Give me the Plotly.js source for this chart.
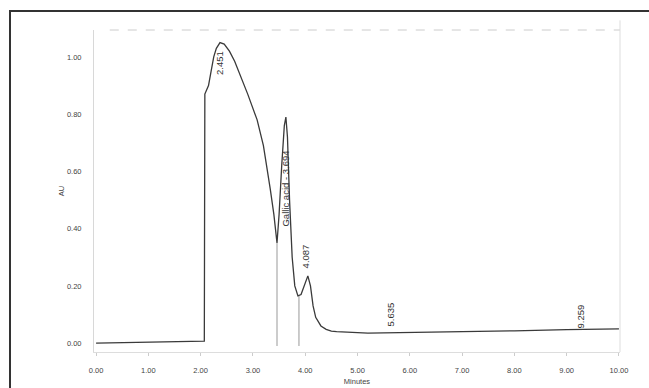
<!DOCTYPE html>
<html>
<head>
<meta charset="utf-8">
<script src="https://cdn.plot.ly/plotly-3.0.1.min.js"></script>
<style>
  html, body { margin: 0; padding: 0; background: #fff; }
  #frame { position: absolute; left: 9px; top: 10px; width: 640px; height: 378px;
           border-left: 2px solid #333; border-top: 2px solid #333; box-sizing: border-box; pointer-events: none; z-index: 5; }
  #chart { width: 649px; height: 388px; }
</style>
</head>
<body>
<div id="chart"></div>
<div id="frame"></div>
<script>
// Chromatogram trace (retention time in minutes, absorbance in AU)
const times = [0, 1.0, 2.0, 2.07, 2.08, 2.1, 2.15, 2.2, 2.25, 2.3, 2.37, 2.45, 2.55, 2.65, 2.75, 2.9, 3.08, 3.2, 3.33, 3.4, 3.46, 3.5, 3.55, 3.6, 3.63, 3.66, 3.7, 3.75, 3.8, 3.86, 3.92, 3.98, 4.05, 4.1, 4.15, 4.2, 4.3, 4.4, 4.5, 4.6, 4.8, 5.0, 5.2, 5.5, 6.0, 7.0, 8.0, 9.0, 10.0];
const au    = [0.0, 0.003, 0.006, 0.007, 0.87, 0.88, 0.9, 0.95, 1.0, 1.03, 1.05, 1.045, 1.02, 0.985, 0.94, 0.87, 0.78, 0.69, 0.54, 0.45, 0.35, 0.45, 0.62, 0.76, 0.79, 0.72, 0.50, 0.30, 0.20, 0.165, 0.17, 0.2, 0.235, 0.2, 0.13, 0.09, 0.06, 0.048, 0.042, 0.04, 0.038, 0.036, 0.035, 0.036, 0.037, 0.04, 0.043, 0.047, 0.05];

// Integration drop lines (time, valley height)
const dropTimes = [3.46, 3.88];
const dropTops  = [0.35, 0.165];

// Peak labels
const peakLabels = ["2.451", "Gallic acid - 3.694", "4.087", "5.635", "9.259"];
const peakTimes  = [2.37, 3.63, 4.0, 5.635, 9.259];
const peakHeights = [0.93, 0.40, 0.255, 0.05, 0.045];

const xTicks = [0,1,2,3,4,5,6,7,8,9,10];
const yTicks = [0, 0.2, 0.4, 0.6, 0.8, 1.0];

const traces = [];
dropTimes.forEach((t, i) => {
  traces.push({x: [t, t], y: [-0.01, dropTops[i]], mode: 'lines',
    line: {color: '#999', width: 1}, hoverinfo: 'skip', showlegend: false});
});
traces.push({x: times, y: au, mode: 'lines', line: {color: '#3a3a3a', width: 1.3},
  showlegend: false});

const annotations = peakLabels.map((txt, i) => ({
  x: peakTimes[i], y: peakHeights[i], xref: 'x', yref: 'y',
  text: txt, showarrow: false, textangle: -90,
  xanchor: 'center', yanchor: 'bottom',
  font: {family: 'Liberation Sans, Arial, sans-serif', size: 9.5, color: '#333'}
}));

const fontBase = {family: 'Liberation Sans, Arial, sans-serif', size: 7.5, color: '#444'};

const layout = {
  width: 649, height: 388,
  margin: {l: 94, r: 29, t: 30, b: 36},
  paper_bgcolor: '#fff', plot_bgcolor: '#fff',
  showlegend: false,
  xaxis: {
    range: [-0.04, 10.02], tickvals: xTicks, tickformat: '.2f',
    showgrid: false, zeroline: false, showline: true, linecolor: '#ddd', linewidth: 1,
    ticks: 'outside', ticklen: 3, tickcolor: '#ccc', ticklabelstandoff: 8,
    tickfont: fontBase,
    title: {text: 'Minutes', standoff: 4, font: fontBase},
    mirror: false
  },
  yaxis: {
    range: [-0.031, 1.094], tickvals: yTicks, tickformat: '.2f',
    showgrid: false, zeroline: false, showline: true, linecolor: '#d8d8d8', linewidth: 1,
    ticks: '', ticklabelstandoff: 10,
    tickfont: fontBase,
    title: {text: 'AU', standoff: 1, font: fontBase}
  },
  shapes: [
    {type: 'line', xref: 'paper', yref: 'paper', x0: 0.03, x1: 1, y0: 1, y1: 1,
     line: {color: '#ccc', width: 1, dash: 'dash'}},
    {type: 'line', xref: 'paper', yref: 'paper', x0: 1, x1: 1, y0: 0, y1: 1.03,
     line: {color: '#ddd', width: 1}}
  ],
  annotations: annotations
};

Plotly.newPlot('chart', traces, layout, {displayModeBar: false, staticPlot: true});
</script>
</body>
</html>
